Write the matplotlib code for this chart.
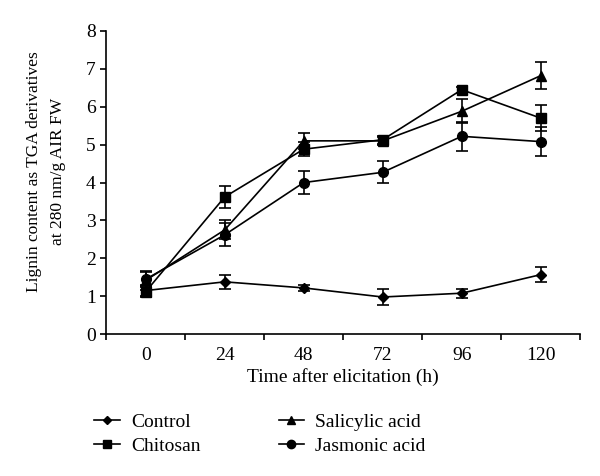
import numpy as np
import matplotlib
matplotlib.use('Agg')
import matplotlib.pyplot as plt
from matplotlib.lines import Line2D

plt.rcParams['font.family'] = ['Liberation Serif', 'DejaVu Serif']

times = ['0', '24', '48', '72', '96', '120']
control = [1.15, 1.38, 1.22, 0.98, 1.08, 1.57]
control_err = [0.15, 0.18, 0.08, 0.22, 0.12, 0.2]
chitosan = [1.12, 3.62, 4.88, 5.13, 6.45, 5.70]
chitosan_err = [0.15, 0.3, 0.18, 0.1, 0.08, 0.34]
salicylic = [1.42, 2.75, 5.10, 5.10, 5.88, 6.82]
salicylic_err = [0.25, 0.25, 0.22, 0.1, 0.32, 0.35]
jasmonic = [1.45, 2.62, 4.00, 4.27, 5.22, 5.08]
jasmonic_err = [0.2, 0.3, 0.3, 0.29, 0.39, 0.39]

fig = plt.figure(figsize=(6, 4.76), dpi=100)
ax = fig.add_axes([0.177, 0.298, 0.79, 0.637])
x = np.arange(len(times))

series = [
  ('Control', control, control_err, 'D', 5),
  ('Chitosan', chitosan, chitosan_err, 's', 7),
  ('Salicylic acid', salicylic, salicylic_err, '^', 7),
  ('Jasmonic acid', jasmonic, jasmonic_err, 'o', 7),
]
handles = {}
for name, vals, err, m, ms in series:
  ax.errorbar(x, vals, yerr=err, color='black', marker=m, markersize=ms,
              lw=1.2, capsize=4, elinewidth=1.2, capthick=1.2)
  handles[name] = Line2D([], [], color='black', marker=m, markersize=ms - 1, lw=1.2)

ax.set_xlim(-0.5, 5.5)
ax.set_ylim(0, 8)
ax.set_yticks(range(0, 9))
ax.set_xticks(x)
ax.set_xticklabels(times)
ax.set_xticks(np.arange(-0.5, 6, 1), minor=True)
ax.tick_params(axis='x', which='major', length=0, pad=9, labelsize=14)
ax.tick_params(axis='x', which='minor', length=4, width=1.2, direction='out')
ax.tick_params(axis='y', length=4, width=1.2, direction='out', labelsize=14)
for s in ['top', 'right']:
  ax.spines[s].set_visible(False)
for s in ['left', 'bottom']:
  ax.spines[s].set_linewidth(1.2)

ax.set_xlabel('Time after elicitation (h)', fontsize=14, labelpad=3)
ax.set_ylabel('Lignin content as TGA derivatives\nat 280 nm/g AIR FW', fontsize=12.5,
              linespacing=1.7)
ax.yaxis.set_label_coords(-0.084, 0.535)

order = ['Control', 'Chitosan', 'Salicylic acid', 'Jasmonic acid']
fig.legend([handles[n] for n in order], order, loc='lower left',
           bbox_to_anchor=(0.128, 0.008), ncol=2, frameon=False,
           prop={'family': 'Liberation Serif', 'size': 14},
           columnspacing=4.0, handlelength=1.3, labelspacing=0.33, handletextpad=0.6)

plt.savefig('out.png', dpi=100)
